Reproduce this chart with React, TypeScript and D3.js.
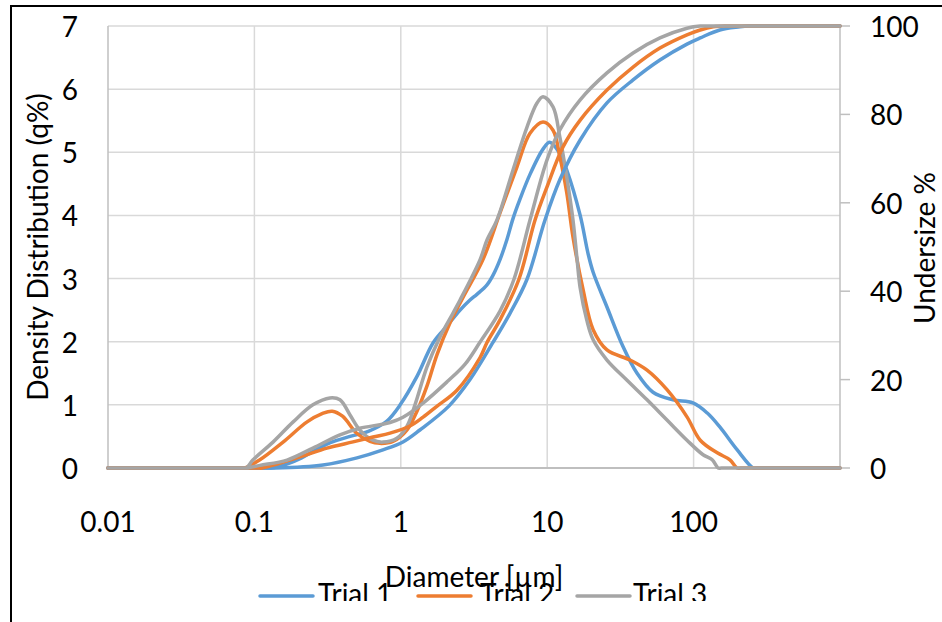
import React from "react";
import * as d3 from "d3";

const xTickValues = [0.01, 0.1, 1, 10, 100];
const xGridValues = [0.1, 1, 10, 100];
const leftTickValues = [0, 1, 2, 3, 4, 5, 6, 7];
const rightTickValues = [0, 20, 40, 60, 80, 100];
const seriesNames = ["Trial 1", "Trial 2", "Trial 3"];
const seriesColors = ["#5B9BD5", "#ED7D31", "#A5A5A5"];

// density distribution q% (left axis)
const trial1Density: [number, number][] = [
  [0.01, 0], [0.12, 0], [0.13, 0], [0.17, 0.07], [0.21, 0.16], [0.25, 0.26], [0.33, 0.4], [0.45, 0.5],
  [0.6, 0.58], [0.8, 0.74], [0.99, 1.0], [1.29, 1.45], [1.66, 1.98], [2.07, 2.25], [2.54, 2.5],
  [2.97, 2.66], [3.31, 2.75], [3.88, 2.9], [4.26, 3.05], [4.76, 3.3], [5.31, 3.62], [5.84, 3.95],
  [6.5, 4.25], [7.63, 4.65], [9.36, 5.05], [10.4, 5.16], [12.2, 4.98], [13.6, 4.72], [16.8, 4.0],
  [19.0, 3.4], [20.6, 3.1], [25.6, 2.55], [33, 1.92], [41.1, 1.5], [52.8, 1.2], [72.3, 1.08], [99, 1.03],
  [124, 0.87], [151, 0.65], [198, 0.29], [255, 0], [270, 0], [1000, 0],
];
const trial2Density: [number, number][] = [
  [0.01, 0], [0.08, 0], [0.085, 0], [0.109, 0.13], [0.157, 0.41], [0.229, 0.73], [0.29, 0.86], [0.34, 0.9],
  [0.4, 0.82], [0.5, 0.55], [0.616, 0.42], [0.72, 0.39], [0.885, 0.42], [1.1, 0.6], [1.29, 0.9],
  [1.51, 1.3], [1.77, 1.8], [2.17, 2.3], [2.66, 2.7], [3.64, 3.3], [4.76, 4.04], [6.22, 4.77],
  [7.63, 5.3], [9.36, 5.48], [10.96, 5.35], [12.2, 4.93], [13.6, 4.36], [15.0, 3.66], [17.6, 2.82],
  [20.6, 2.19], [25.6, 1.87], [36.8, 1.71], [48.1, 1.55], [65.8, 1.24], [90.1, 0.81], [111, 0.44],
  [145, 0.24], [177, 0.13], [198, 0], [210, 0], [1000, 0],
];
const trial3Density: [number, number][] = [
  [0.01, 0], [0.082, 0], [0.088, 0], [0.098, 0.13], [0.134, 0.41], [0.184, 0.73], [0.251, 1.0], [0.328, 1.11],
  [0.384, 1.08], [0.45, 0.84], [0.526, 0.6], [0.645, 0.44], [0.755, 0.41], [0.94, 0.47], [1.1, 0.66],
  [1.25, 1.0], [1.51, 1.6], [1.85, 2.07], [2.27, 2.45], [2.54, 2.66], [3.48, 3.3], [3.88, 3.61],
  [4.54, 3.93], [5.84, 4.72], [7.28, 5.4], [8.52, 5.78], [9.36, 5.88], [10.96, 5.72], [12.2, 5.24],
  [13.6, 4.61], [15.0, 3.93], [16.0, 3.3], [16.8, 2.85], [18.6, 2.35], [20.6, 2.03], [25.6, 1.71],
  [35.1, 1.39], [48.1, 1.08], [65.8, 0.76], [90.1, 0.44], [116, 0.21], [134, 0.13], [147, 0], [155, 0], [1000, 0],
];

// cumulative undersize % (right axis)
const trial1Undersize: [number, number][] = [
  [0.01, 0], [0.125, 0], [0.138, 0], [0.294, 0.7], [0.502, 2.3], [0.755, 4.1], [1.035, 5.9], [1.35, 8.6],
  [2.13, 14], [2.97, 20], [4.26, 28.4], [5.57, 35], [7.28, 42.7], [9.66, 56.1], [12.2, 65.2],
  [16.8, 74.2], [25.6, 82.6], [38.6, 87.8], [58.9, 92.3], [90.1, 95.9], [111, 97.3], [151, 99.1],
  [207, 99.8], [235, 100], [250, 100], [1000, 100],
];
const trial2Undersize: [number, number][] = [
  [0.01, 0], [0.105, 0], [0.113, 0], [0.205, 2.5], [0.313, 4.5], [0.472, 5.9], [0.646, 7.0], [0.844, 7.9],
  [1.155, 9.5], [1.42, 11.5], [1.77, 14], [2.42, 17.6], [3.48, 25], [3.88, 28.4], [4.76, 33.5],
  [6.41, 42.7], [8.26, 56.1], [9.97, 63.6], [12.8, 72.6], [16.8, 78.7], [25.6, 85.5], [38.6, 90.7],
  [58.9, 95.0], [90.1, 98], [111, 99.1], [136, 99.8], [164, 100], [175, 100], [1000, 100],
];
const trial3Undersize: [number, number][] = [
  [0.01, 0], [0.082, 0], [0.088, 0], [0.109, 0.6], [0.167, 1.8], [0.251, 4.5], [0.384, 7.5], [0.526, 9.0],
  [0.721, 9.8], [0.844, 10.3], [1.035, 11.5], [1.42, 14.7], [2.07, 19.5], [2.75, 23.5], [3.48, 28.5],
  [4.76, 35.5], [5.93, 42.7], [7.63, 56.1], [9.97, 69.7], [12.2, 76.5], [16.8, 83.3], [25.6, 89.4],
  [38.6, 93.9], [58.9, 97.3], [90.1, 99.5], [111, 100], [120, 100], [1000, 100],
];

const densitySeries = [trial1Density, trial2Density, trial3Density];
const undersizeSeries = [trial1Undersize, trial2Undersize, trial3Undersize];

const FONT = "Lato, 'Open Sans', sans-serif";
const FS = 28;

export default function App() {
  const W = 942;
  const H = 622;
  const x = d3.scaleLog().domain([0.01, 1000]).range([108, 840]);
  const yL = d3.scaleLinear().domain([0, 7]).range([468, 26]);
  const yR = d3.scaleLinear().domain([0, 100]).range([468, 26]);

  const curve = d3.curveCatmullRom.alpha(0.5);
  const lineL = d3
    .line<[number, number]>()
    .x((d) => x(d[0]))
    .y((d) => yL(d[1]))
    .curve(curve);
  const lineR = d3
    .line<[number, number]>()
    .x((d) => x(d[0]))
    .y((d) => yR(d[1]))
    .curve(curve);

  const [x0, x1] = x.range();
  const [yb, yt] = yL.range();

  const legendItems = [
    { lineX: 260, textX: 318 },
    { lineX: 418, textX: 480 },
    { lineX: 577, textX: 633 },
  ];

  return (
    <svg
      width={W}
      height={H}
      style={{ position: "absolute", left: 0, top: 0, background: "#fff" }}
      fontFamily={FONT}
    >
      <defs>
        <clipPath id="legendClip">
          <rect x={0} y={560} width={W} height={41} />
        </clipPath>
      </defs>
      <rect x={0} y={0} width={W} height={H} fill="#fff" />
      {/* chart area frame */}
      <rect x={11} y={6} width={1000} height={800} fill="none" stroke="#000" strokeWidth={2} />

      {/* horizontal gridlines */}
      {leftTickValues.map((v) => (
        <line key={"h" + v} x1={x0} x2={x1} y1={yL(v)} y2={yL(v)} stroke="#D9D9D9" strokeWidth={1.5} />
      ))}
      {/* vertical gridlines */}
      {xGridValues.map((v) => (
        <line key={"v" + v} x1={x(v)} x2={x(v)} y1={yt} y2={yb} stroke="#D9D9D9" strokeWidth={1.5} />
      ))}
      {/* axis lines */}
      <line x1={x0} x2={x0} y1={yt} y2={yb} stroke="#BFBFBF" strokeWidth={1.5} />
      <line x1={x0} x2={x1} y1={yb} y2={yb} stroke="#BFBFBF" strokeWidth={2} />
      <line x1={x1} x2={x1} y1={yt} y2={yb} stroke="#BFBFBF" strokeWidth={1.5} />
      {rightTickValues.map((v) => (
        <line key={"rt" + v} x1={x1} x2={x1 + 10} y1={yR(v)} y2={yR(v)} stroke="#BFBFBF" strokeWidth={1.5} />
      ))}

      {/* series */}
      {densitySeries.map((s, i) => (
        <path key={"d" + i} d={lineL(s) || ""} fill="none" stroke={seriesColors[i]} strokeWidth={3.5} strokeLinejoin="round" strokeLinecap="round" />
      ))}
      {undersizeSeries.map((s, i) => (
        <path key={"u" + i} d={lineR(s) || ""} fill="none" stroke={seriesColors[i]} strokeWidth={3.5} strokeLinejoin="round" strokeLinecap="round" />
      ))}

      {/* left tick labels */}
      {leftTickValues.map((v) => (
        <text key={"lt" + v} x={78} y={yL(v)} textAnchor="end" dominantBaseline="central" fontSize={FS} fill="#000">
          {v}
        </text>
      ))}
      {/* right tick labels */}
      {rightTickValues.map((v) => (
        <text key={"rl" + v} x={870} y={yR(v)} textAnchor="start" dominantBaseline="central" fontSize={FS} fill="#000">
          {v}
        </text>
      ))}
      {/* x tick labels */}
      {xTickValues.map((v) => (
        <text key={"xt" + v} x={x(v)} y={521} textAnchor="middle" dominantBaseline="central" fontSize={FS} fill="#000">
          {String(v)}
        </text>
      ))}

      {/* axis titles */}
      <text transform={`translate(48,247) rotate(-90)`} textAnchor="middle" fontSize={FS} fill="#000">
        Density Distribution (q%)
      </text>
      <text transform={`translate(935,248) rotate(-90)`} textAnchor="middle" fontSize={FS} fill="#000">
        Undersize %
      </text>

      {/* legend (clipped at bottom) */}
      <g clipPath="url(#legendClip)">
        {seriesNames.map((name, i) => (
          <g key={name}>
            <line x1={legendItems[i].lineX} x2={legendItems[i].lineX + 53} y1={596} y2={596} stroke={seriesColors[i]} strokeWidth={3.5} strokeLinecap="round" />
            <text x={legendItems[i].textX} y={604} fontSize={FS} fill="#000">
              {name}
            </text>
          </g>
        ))}
      </g>
      <text x={474} y={587} textAnchor="middle" fontSize={FS} fill="#000">
        Diameter [µm]
      </text>
    </svg>
  );
}
